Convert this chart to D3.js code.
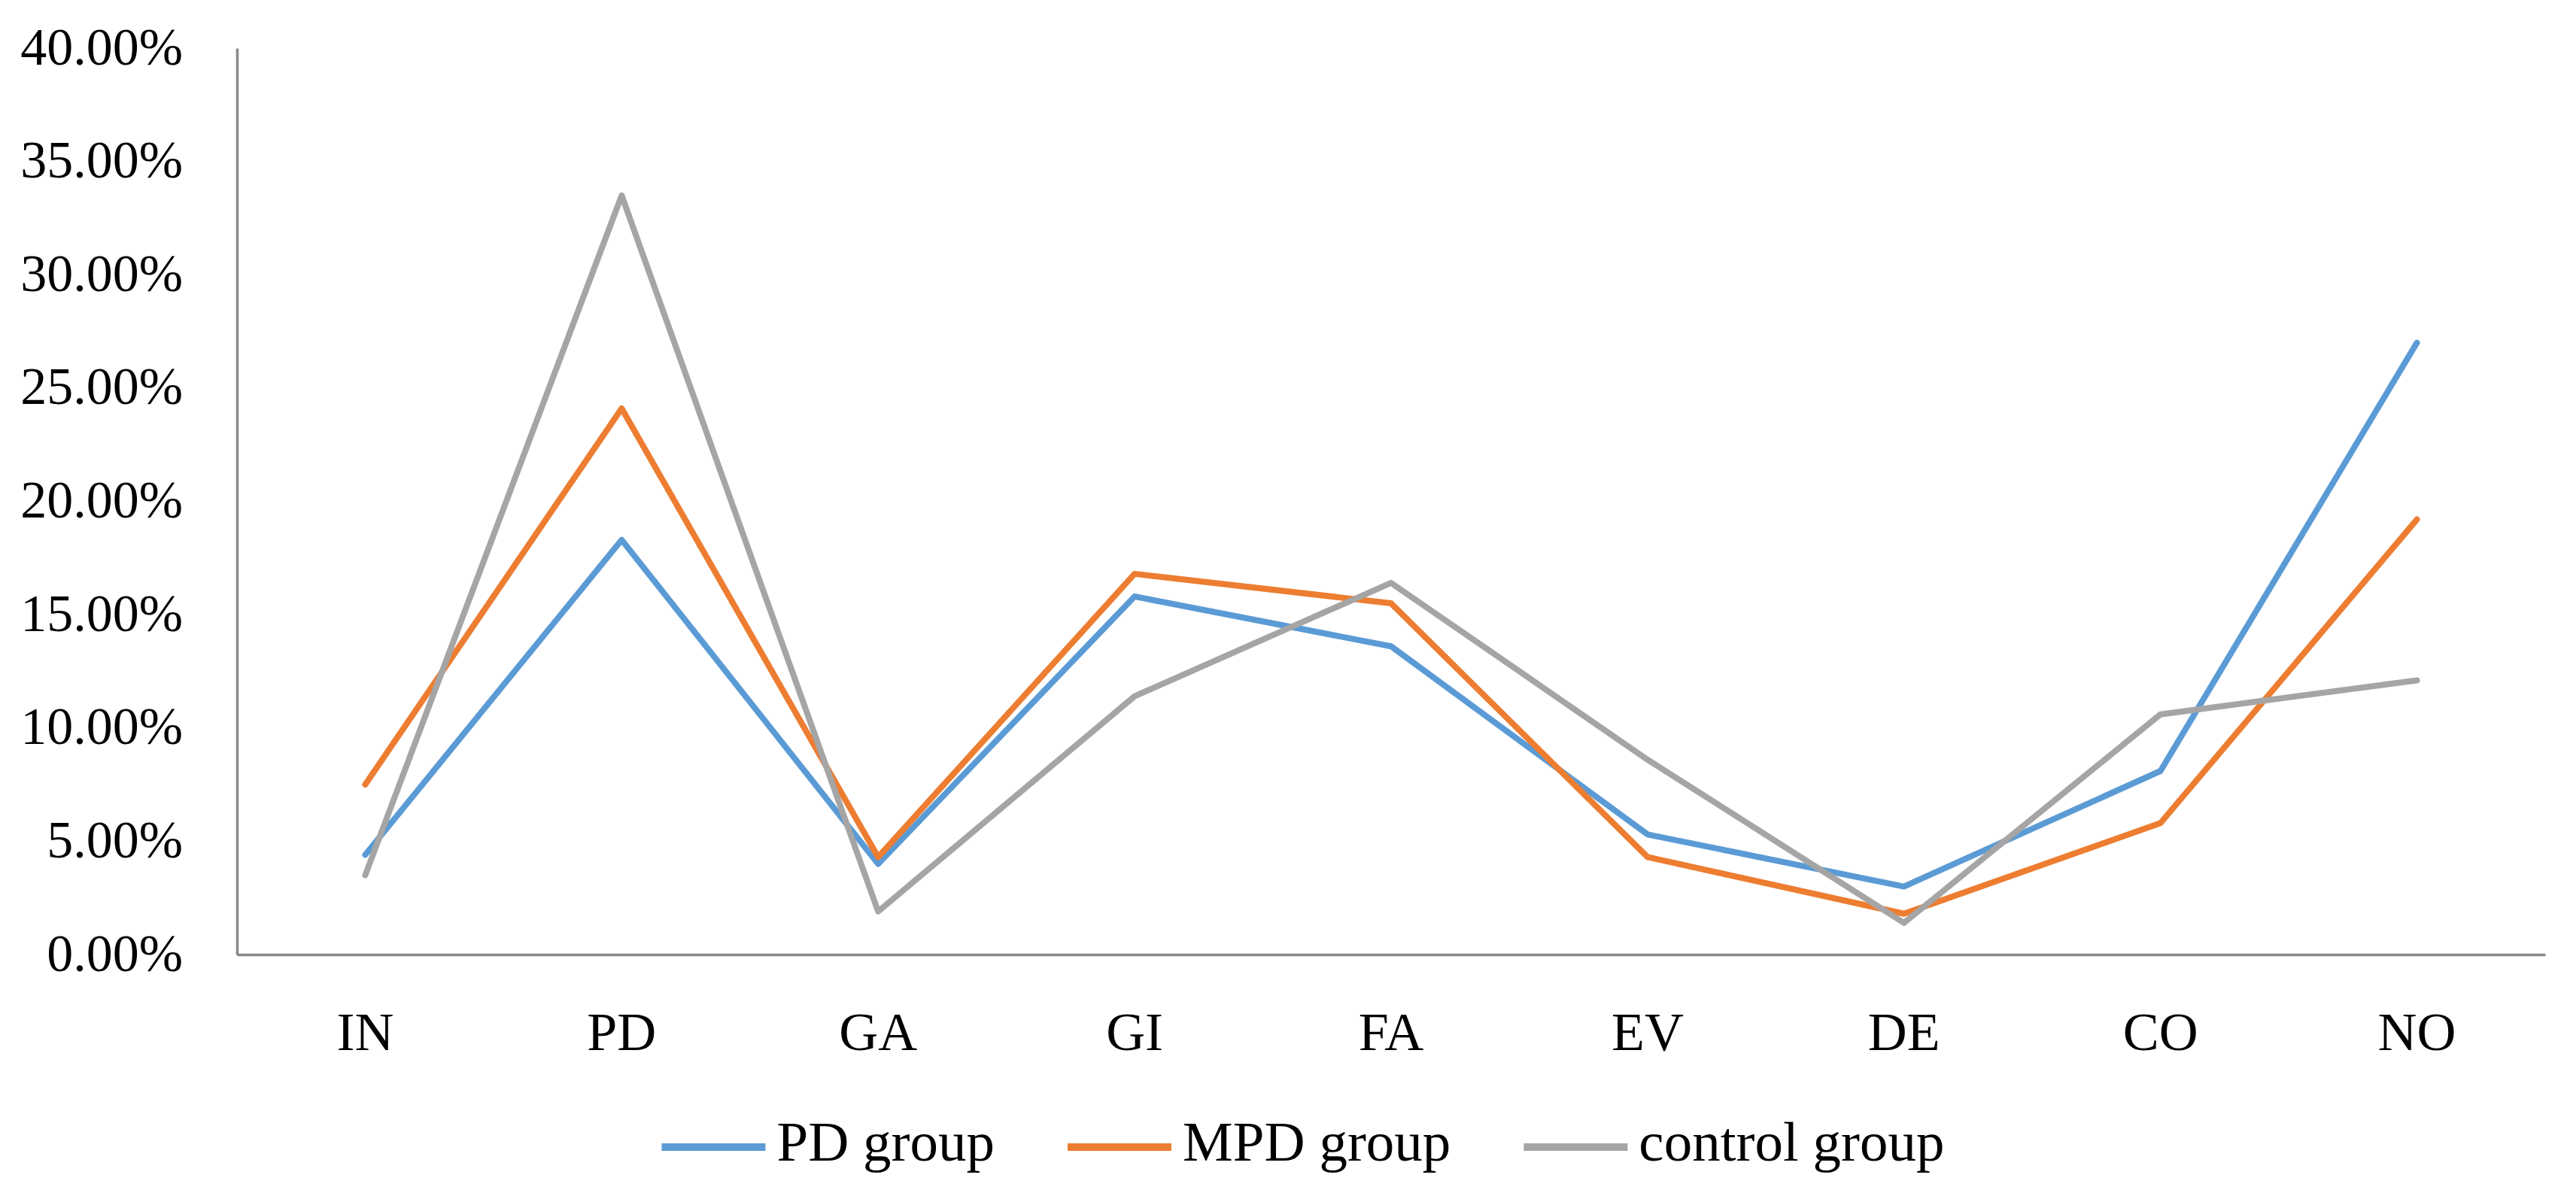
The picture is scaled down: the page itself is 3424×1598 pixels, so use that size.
<!DOCTYPE html>
<html>
<head>
<meta charset="utf-8">
<script src="https://cdn.jsdelivr.net/npm/d3@7"></script>
<style>
  body { margin: 0; background: #fff; }
  text { font-family: "Palatino Linotype", "Book Antiqua", "Liberation Serif", serif; fill: #000; }
</style>
</head>
<body>
<div id="chart"></div>
<script>
// categories on the x axis
var categories = ["IN", "PD", "GA", "GI", "FA", "EV", "DE", "CO", "NO"];
// series values in percent
var pdGroup = [4.4, 18.3, 4.0, 15.8, 13.6, 5.3, 3.0, 8.1, 27.0];
var mpdGroup = [7.5, 24.1, 4.3, 16.8, 15.5, 4.3, 1.8, 5.8, 19.2];
var controlGroup = [3.5, 33.5, 1.9, 11.4, 16.4, 8.6, 1.4, 10.6, 12.1];
var seriesNames = ["PD group", "MPD group", "control group"];
var yTicks = [0, 5, 10, 15, 20, 25, 30, 35, 40];

var colors = ["#5B9BD5", "#ED7D31", "#A5A5A5"];
var series = [pdGroup, mpdGroup, controlGroup].map((vals, i) => ({
  name: seriesNames[i],
  color: colors[i],
  values: vals.map((v, j) => ({ cat: categories[j], value: v }))
}));

var width = 3424, height = 1598;
var margin = { top: 64, right: 41, bottom: 329, left: 315 };
var chartWidth = width - margin.left - margin.right;
var chartHeight = height - margin.top - margin.bottom;

var svg = d3.select("#chart")
  .append("svg")
  .attr("width", width)
  .attr("height", height);

var g = svg.append("g")
  .attr("transform", `translate(${margin.left}, ${margin.top})`);

var xScale = d3.scaleBand()
  .domain(categories)
  .range([0, chartWidth]);

var yScale = d3.scaleLinear()
  .domain([0, 40])
  .range([chartHeight, 0]);

var yAxis = d3.axisLeft(yScale)
  .tickValues(yTicks)
  .tickSize(0)
  .tickPadding(72)
  .tickFormat(d => d3.format(".2f")(d) + "%");

var xAxis = d3.axisBottom(xScale)
  .tickSize(0)
  .tickPadding(76);

var yG = g.append("g").attr("class", "y axis").call(yAxis);
yG.selectAll("text").style("font-size", "70px").attr("dy", "0.30em");
yG.select(".domain").attr("stroke", "#898989").attr("stroke-width", 3.5);

var xG = g.append("g")
  .attr("class", "x axis")
  .attr("transform", `translate(0, ${chartHeight})`)
  .call(xAxis);
xG.selectAll("text").style("font-size", "72px").attr("dy", "0.71em");
xG.select(".domain").attr("stroke", "#898989").attr("stroke-width", 3.5);

var line = d3.line()
  .x(d => xScale(d.cat) + xScale.bandwidth() / 2)
  .y(d => yScale(d.value));

g.append("g").attr("class", "lines")
  .selectAll("path")
  .data(series)
  .enter()
  .append("path")
  .attr("d", d => line(d.values))
  .attr("fill", "none")
  .attr("stroke", d => d.color)
  .attr("stroke-width", 8)
  .attr("stroke-linejoin", "round")
  .attr("stroke-linecap", "round");

// legend, laid out by measured text widths
var legend = svg.append("g").attr("class", "legend");
var legendY = 1525, swatch = 138, swatchGap = 15, itemGap = 97;
var items = legend.selectAll("g")
  .data(series)
  .enter()
  .append("g");
items.append("line")
  .attr("x1", 0).attr("x2", swatch)
  .attr("y1", 0).attr("y2", 0)
  .attr("stroke", d => d.color)
  .attr("stroke-width", 10);
items.append("text")
  .attr("x", swatch + swatchGap)
  .attr("y", 18)
  .style("font-size", "75px")
  .text(d => d.name);

var offsets = [], total = 0;
items.each(function () {
  var w = swatch + swatchGap + d3.select(this).select("text").node().getComputedTextLength();
  offsets.push(total);
  total += w + itemGap;
});
total -= itemGap;
var legendStart = 1732 - total / 2;
items.attr("transform", (d, i) => `translate(${legendStart + offsets[i]}, ${legendY})`);
</script>
</body>
</html>
